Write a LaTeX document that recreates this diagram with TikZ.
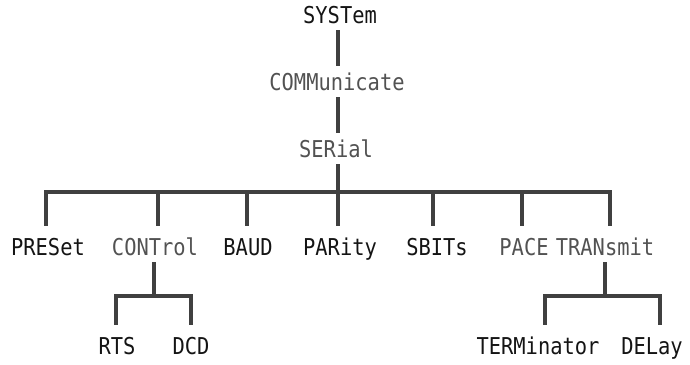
\documentclass[tikz,border=0pt]{standalone}
\usepackage{fontspec}
\newfontfamily\cmdfont[FakeStretch=0.88]{DejaVu Sans Mono}
\usetikzlibrary{positioning, calc}

\begin{document}
\begin{tikzpicture}[
    x=0.025cm, y=-0.025cm,
    cmd/.style={font=\cmdfont\fontsize{16.5}{18}\selectfont, text=black!92, text height=11.7pt, text depth=0pt, inner xsep=2pt, inner ysep=5pt},
    faded/.style={text=black!68},
    branch/.style={draw=black!75, line width=2.2pt},
    drop/.style={branch, shorten <=4pt, shorten >=4pt},
    every node/.style={anchor=base}
]
\useasboundingbox (0,0) rectangle (690,364);

% =================== TRUNK ===================
\node[cmd] (system) at (340,23) {SYSTem};
\node[cmd, faded] (comm) at (337,90) {COMMunicate};
\node[cmd, faded] (serial) at (336,157) {SERial};

\coordinate (trunk) at (338,192);

\draw[branch] (system.south -| trunk) -- (comm.north -| trunk);
\draw[branch] (comm.south -| trunk) -- (serial.north -| trunk);
\draw[branch] (serial.south -| trunk) -- (trunk);


% =================== SERIAL SUBCOMMANDS ===================
\node[cmd] (preset) at (48,255) {PRESet};
\node[cmd, faded] (control) at (155,255) {CONTrol};
\node[cmd] (baud) at (248,255) {BAUD};
\node[cmd] (parity) at (340,255) {PARity};
\node[cmd] (sbits) at (437,255) {SBITs};
\node[cmd, faded] (pace) at (524,255) {PACE};
\node[cmd, faded] (transmit) at (605,255) {TRANsmit};

% Bus
\coordinate (b1) at (46,192);
\coordinate (b2) at (158,192);
\coordinate (b3) at (247,192);
\coordinate (b5) at (433,192);
\coordinate (b6) at (522,192);
\coordinate (b7) at (610,192);

\draw[drop] (b1 |- preset.north) -- (b1) -- (b7) -- (b7 |- transmit.north);
\draw[drop, shorten <=0pt] (b2) -- (b2 |- control.north);
\draw[drop, shorten <=0pt] (b3) -- (b3 |- baud.north);
\draw[drop, shorten <=0pt] (trunk) -- (trunk |- parity.north);
\draw[drop, shorten <=0pt] (b5) -- (b5 |- sbits.north);
\draw[drop, shorten <=0pt] (b6) -- (b6 |- pace.north);


% =================== CONTROL LINES ===================
\node[cmd] (rts) at (117,354) {RTS};
\node[cmd] (dcd) at (191,354) {DCD};

\coordinate (cb) at (154,296);
\coordinate (c1) at (116,296);
\coordinate (c2) at (191,296);

\draw[branch] (control.south -| cb) -- (cb);
\draw[drop] (c1 |- rts.north) -- (c1) -- (c2) -- (c2 |- dcd.north);


% =================== TRANSMIT SETTINGS ===================
\node[cmd] (term) at (538,354) {TERMinator};
\node[cmd] (delay) at (652,354) {DELay};

\coordinate (tb) at (605,296);
\coordinate (t1) at (545,296);
\coordinate (t2) at (660,296);

\draw[branch] (transmit.south -| tb) -- (tb);
\draw[drop] (t1 |- term.north) -- (t1) -- (t2) -- (t2 |- delay.north);

\end{tikzpicture}
\end{document}
